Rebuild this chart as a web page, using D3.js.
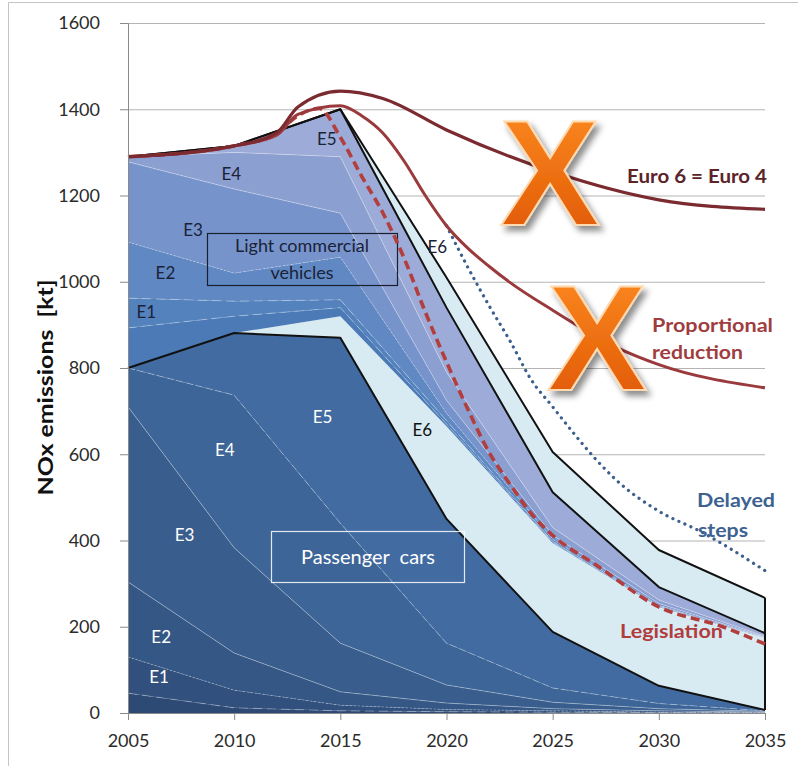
<!DOCTYPE html>
<html>
<head>
<meta charset="utf-8">
<script src="https://cdn.jsdelivr.net/npm/d3@7"></script>
<style>
body { margin: 0; background: #fff; }
svg { display: block; font-family: Lato, "Open Sans", sans-serif; }
</style>
</head>
<body>
<svg id="chart"></svg>
<script>
const years = [2005, 2010, 2015, 2020, 2025, 2030, 2035];
const yTicks = [0, 200, 400, 600, 800, 1000, 1200, 1400, 1600];

// passenger cars, kt NOx per Euro class
const pcE0 = [46, 12, 5, 3, 2, 1, 0];
const pcE1 = [84, 41, 13, 5, 3, 1, 1];
const pcE2 = [174, 86, 31, 15, 5, 3, 1];
const pcE3 = [406, 244, 113, 42, 15, 5, 2];
const pcE4 = [90, 354, 278, 97, 33, 12, 1];
const pcE5 = [0, 144, 430, 288, 130, 41, 2];
const pcE6 = [0, 0, 50, 215, 206, 183, 167];

// light commercial vehicles
const lcvE0 = [93, 39, 20, 5, 2, 1, 0];
const lcvE1 = [69, 35, 18, 8, 2, 1, 0];
const lcvE2 = [130, 65, 99, 17, 5, 2, 1];
const lcvE3 = [186, 195, 102, 30, 9, 4, 1];
const lcvE4 = [12, 85, 131, 65, 18, 8, 2];
const lcvE5 = [0, 15, 110, 150, 82, 30, 7];
const lcvE6 = [0, 0, 0, 70, 93, 86, 82];

// scenario lines
const euro4Years = [2005, 2010, 2012, 2013, 2015, 2017, 2020, 2025, 2030, 2035];
const euro4Vals  = [1290, 1315, 1345, 1405, 1442, 1425, 1352, 1255, 1190, 1168];
const propYears = [2005, 2010, 2012, 2013, 2015, 2016, 2017, 2018, 2019, 2020, 2021, 2022, 2023, 2025, 2028, 2030, 2035];
const propVals  = [1290, 1315, 1340, 1388, 1408, 1385, 1345, 1280, 1200, 1130, 1078, 1036, 998, 934, 848, 808, 754];
const delayYears = [2020, 2021, 2022, 2023, 2024, 2025, 2026, 2027, 2028, 2030, 2032, 2035];
const delayVals  = [1130, 1034, 945, 862, 772, 710, 648, 590, 540, 468, 420, 330];
const legisYears = [2005, 2010, 2012, 2013, 2014, 2015, 2016, 2017, 2018, 2019, 2020, 2021, 2022, 2023, 2024, 2025, 2027, 2030, 2033, 2035];
const legisVals  = [1290, 1315, 1345, 1385, 1402, 1335, 1245, 1160, 1055, 930, 814, 705, 605, 530, 462, 412, 345, 246, 200, 160];

const keys = ["pcE0", "pcE1", "pcE2", "pcE3", "pcE4", "pcE5", "pcE6",
              "lcvE0", "lcvE1", "lcvE2", "lcvE3", "lcvE4", "lcvE5", "lcvE6"];
const series = { pcE0, pcE1, pcE2, pcE3, pcE4, pcE5, pcE6,
                 lcvE0, lcvE1, lcvE2, lcvE3, lcvE4, lcvE5, lcvE6 };
const fills = ["#2d4a75", "#31507d", "#355785", "#395e8e", "#3d6597", "#426ca1", "#d8ebf2",
               "#4b7ab6", "#5482bd", "#6089c3", "#7694cb", "#8b9fd1", "#9cabd7", "#d8ebf2"];

const width = 798, height = 766;
const margin = { top: 23, right: 33, bottom: 53, left: 128 };

const svg = d3.select("#chart").attr("width", width).attr("height", height);

const x = d3.scaleLinear().domain([2005, 2035]).range([margin.left, width - margin.right]);
const y = d3.scaleLinear().domain([0, 1600]).range([height - margin.bottom, margin.top]);

// frame
svg.append("path")
    .attr("d", `M8.5,${height} V2.5 H${width}`)
    .attr("fill", "none").attr("stroke", "#c4c4c4");

// gridlines
svg.append("g")
    .selectAll("line")
    .data(yTicks.slice(1))
    .enter().append("line")
    .attr("x1", x(2005)).attr("x2", x(2035))
    .attr("y1", d => y(d) + 0.5).attr("y2", d => y(d) + 0.5)
    .attr("stroke", "#b4b4b4");

// stacked areas
const rows = years.map((yr, i) => {
    const r = { year: yr };
    keys.forEach(k => r[k] = series[k][i]);
    return r;
});
const stacked = d3.stack().keys(keys)(rows);

const area = d3.area()
    .x(d => x(d.data.year))
    .y0(d => y(d[0]))
    .y1(d => y(d[1]));

svg.append("g")
    .selectAll("path")
    .data(stacked)
    .enter().append("path")
    .attr("d", area)
    .attr("fill", (d, i) => fills[i]);

// thin white class boundaries
const topLine = d3.line().x(d => x(d.data.year)).y(d => y(d[1]));
const dashes = ["9,5", "2,2", null, null, "7,3", null, null, "9,5", "9,5", "2,2", null, null];
const inner = [0, 1, 2, 3, 4, 7, 8, 9, 10, 11];
svg.append("g")
    .selectAll("path")
    .data(inner)
    .enter().append("path")
    .attr("d", i => topLine(stacked[i]))
    .attr("fill", "none")
    .attr("stroke", "#fff")
    .attr("stroke-opacity", 0.32)
    .attr("stroke-width", 1)
    .attr("stroke-dasharray", i => dashes[i]);

// black outlines of the Euro 6 bands
[5, 12, 13].forEach(i => {
    svg.append("path")
        .attr("d", topLine(stacked[i]))
        .attr("fill", "none")
        .attr("stroke", "#111")
        .attr("stroke-width", 2)
        .attr("stroke-linejoin", "round");
});
const last = years.length - 1;
svg.append("line")
    .attr("x1", x(2035)).attr("x2", x(2035))
    .attr("y1", y(stacked[5][last][1])).attr("y2", y(stacked[13][last][1]))
    .attr("stroke", "#111").attr("stroke-width", 2);

// class labels
const pcLabels = [["E1", 2006.0, 83], ["E2", 2006.1, 176], ["E3", 2007.2, 413], ["E4", 2009.1, 610], ["E5", 2013.7, 686]];
const lcvLabels = [["E1", 2005.4, 930], ["E2", 2006.3, 1020], ["E3", 2007.6, 1120], ["E4", 2009.4, 1250], ["E5", 2013.9, 1330], ["E6", 2019.1, 1080]];
svg.append("g").selectAll("text").data(pcLabels).enter().append("text")
    .attr("x", d => x(d[1])).attr("y", d => y(d[2]))
    .attr("dy", "0.35em")
    .attr("font-size", 17).attr("fill", "#fff")
    .text(d => d[0]);
svg.append("g").selectAll("text").data(lcvLabels).enter().append("text")
    .attr("x", d => x(d[1])).attr("y", d => y(d[2]))
    .attr("dy", "0.35em")
    .attr("font-size", 17).attr("fill", "#1b2238")
    .text(d => d[0]);
svg.append("text")
    .attr("x", x(2018.4)).attr("y", y(655)).attr("dy", "0.35em")
    .attr("font-size", 17).attr("fill", "#111").text("E6");

// boxes
svg.append("rect")
    .attr("x", 207.5).attr("y", 233.5).attr("width", 190).attr("height", 52)
    .attr("fill", "none").attr("stroke", "#1a1f2e").attr("stroke-width", 1.2);
svg.append("text").attr("x", 302).attr("y", 252).attr("text-anchor", "middle")
    .attr("font-size", 18).attr("fill", "#1b2238").text("Light commercial");
svg.append("text").attr("x", 302).attr("y", 279).attr("text-anchor", "middle")
    .attr("font-size", 18).attr("fill", "#1b2238").text("vehicles");
svg.append("rect")
    .attr("x", 271.5).attr("y", 531.5).attr("width", 193).attr("height", 51)
    .attr("fill", "none").attr("stroke", "#fff").attr("stroke-width", 1.2).attr("stroke-opacity", 0.85);
svg.append("text").attr("x", 368).attr("y", 564).attr("text-anchor", "middle")
    .attr("font-size", 20).attr("fill", "#fff").attr("xml:space", "preserve")
    .text("Passenger  cars");

// scenario lines (dashed legislation sits underneath the solid ones)
const curve = d3.line().x(d => x(d[0])).y(d => y(d[1])).curve(d3.curveMonotoneX);
const zip = (a, b) => a.map((v, i) => [v, b[i]]);

svg.append("path").attr("d", curve(zip(legisYears, legisVals)))
    .attr("fill", "none").attr("stroke", "#b33e3e").attr("stroke-width", 3.6)
    .attr("stroke-dasharray", "9,5");
svg.append("path").attr("d", curve(zip(delayYears, delayVals)))
    .attr("fill", "none").attr("stroke", "#3c5f8e").attr("stroke-width", 3.2)
    .attr("stroke-linecap", "round").attr("stroke-dasharray", "0.1,6.5");
svg.append("path").attr("d", curve(zip(propYears, propVals)))
    .attr("fill", "none").attr("stroke", "#9a3a3c").attr("stroke-width", 3);
svg.append("path").attr("d", curve(zip(euro4Years, euro4Vals)))
    .attr("fill", "none").attr("stroke", "#7b2a2f").attr("stroke-width", 3.2);

// axes
const yAxis = svg.append("g")
    .attr("transform", `translate(${margin.left},0)`)
    .call(d3.axisLeft(y).tickValues(yTicks).tickSize(8).tickPadding(20).tickFormat(d3.format("d")));
const xAxis = svg.append("g")
    .attr("transform", `translate(0,${height - margin.bottom})`)
    .call(d3.axisBottom(x).tickValues(years).tickSize(7).tickPadding(14).tickFormat(d3.format("d")));
[yAxis, xAxis].forEach(g => {
    g.select(".domain").attr("stroke", "#8a8a8a");
    g.selectAll(".tick line").attr("stroke", "#8a8a8a");
    g.selectAll(".tick text").attr("font-size", 18).attr("fill", "#2b2b2b")
        .attr("font-family", "Lato, sans-serif");
});

svg.append("text")
    .attr("transform", `translate(53,${y(755)}) rotate(-90)`)
    .attr("text-anchor", "middle")
    .attr("font-size", 20).attr("font-weight", "bold").attr("fill", "#111")
    .attr("textLength", 216).attr("lengthAdjust", "spacingAndGlyphs")
    .attr("xml:space", "preserve")
    .text("NOx emissions  [kt]");

// crossed-out scenarios
const defs = svg.append("defs");
const grad = defs.append("linearGradient").attr("id", "orange")
    .attr("x1", 0).attr("y1", 0).attr("x2", 0).attr("y2", 1);
grad.append("stop").attr("offset", "0%").attr("stop-color", "#ff8f24");
grad.append("stop").attr("offset", "100%").attr("stop-color", "#dd5200");
const shadow = defs.append("filter").attr("id", "shadow")
    .attr("x", "-20%").attr("y", "-20%").attr("width", "150%").attr("height", "150%");
shadow.append("feDropShadow").attr("dx", 4).attr("dy", 5).attr("stdDeviation", 3)
    .attr("flood-color", "#000").attr("flood-opacity", 0.45);

[[550, 225], [597, 390]].forEach(p => {
    svg.append("text")
        .attr("x", p[0]).attr("y", p[1])
        .attr("text-anchor", "middle")
        .attr("font-family", "Liberation Sans, Arial, sans-serif")
        .attr("font-weight", "bold").attr("font-size", 150)
        .attr("fill", "url(#orange)")
        .attr("stroke", "#ffd9b0").attr("stroke-width", 2)
        .attr("filter", "url(#shadow)")
        .text("X");
});

// scenario labels
const note = (tx, ty, txt, len, col) => svg.append("text")
    .attr("x", tx).attr("y", ty)
    .attr("font-size", 19).attr("font-weight", "bold").attr("fill", col)
    .attr("textLength", len).attr("lengthAdjust", "spacingAndGlyphs")
    .text(txt);
note(627, 183, "Euro 6 = Euro 4", 140, "#5b2428");
note(652, 332, "Proportional", 121, "#a03d3f");
note(652, 359, "reduction", 91, "#a03d3f");
note(697, 507, "Delayed", 78, "#3d6291");
note(698, 537, "steps", 50, "#3d6291");
note(620, 638, "Legislation", 103, "#b23c3c");
</script>
</body>
</html>
